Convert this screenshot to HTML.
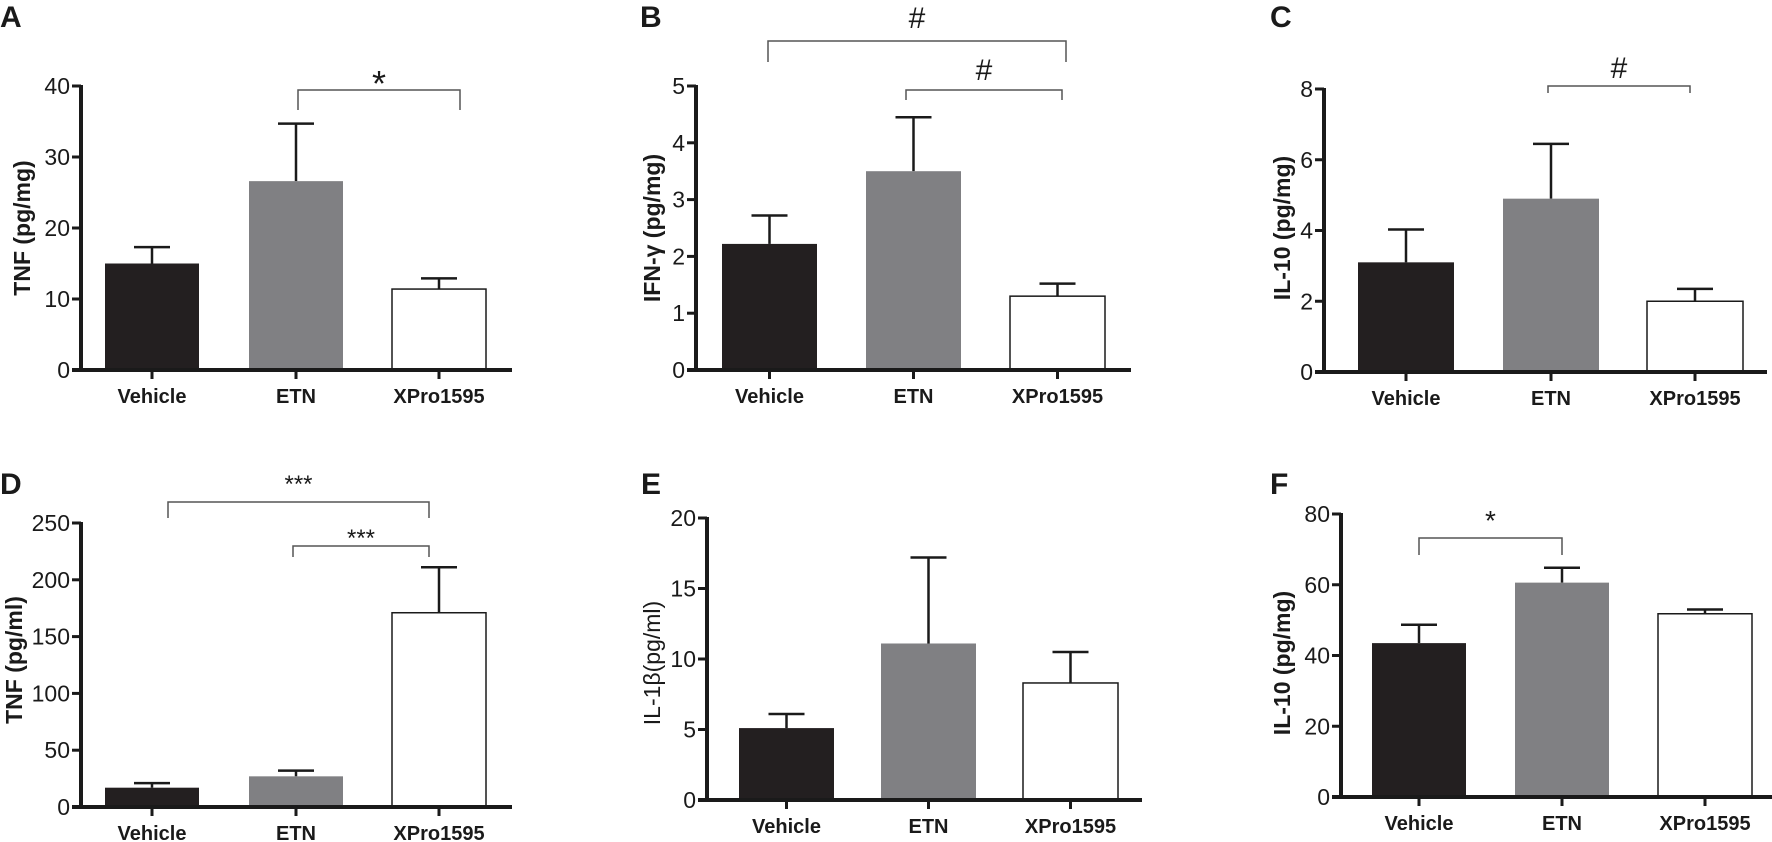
<!DOCTYPE html>
<html><head><meta charset="utf-8">
<style>
html,body{margin:0;padding:0;background:#fff;}
svg{display:block;}
text{font-family:"Liberation Sans",sans-serif;fill:#1a1a1a;}
.lbl{font-family:"Liberation Sans",sans-serif;font-weight:bold;}
</style></head>
<body>
<svg id="fig" width="1772" height="842" viewBox="0 0 1772 842"></svg>
<script>
const categories = ["Vehicle","ETN","XPro1595"];
const aMeans = [15.0, 26.6, 11.4];
const aErrs  = [17.3, 34.7, 12.9];
const aTicks = [0,10,20,30,40];
const bMeans = [2.22, 3.5, 1.3];
const bErrs  = [2.72, 4.45, 1.52];
const bTicks = [0,1,2,3,4,5];
const cMeans = [3.1, 4.9, 2.0];
const cErrs  = [4.03, 6.45, 2.35];
const cTicks = [0,2,4,6,8];
const dMeans = [17, 27, 171];
const dErrs  = [21, 32, 211];
const dTicks = [0,50,100,150,200,250];
const eMeans = [5.1, 11.1, 8.3];
const eErrs  = [6.1, 17.2, 10.5];
const eTicks = [0,5,10,15,20];
const fMeans = [43.5, 60.6, 51.8];
const fErrs  = [48.7, 64.8, 53.0];
const fTicks = [0,20,40,60,80];

const NS = "http://www.w3.org/2000/svg";
const svg = document.getElementById("fig");
const fills = ["#231f20","#808083","#ffffff"];

function mk(tag, attrs, parent){
  const e = document.createElementNS(NS, tag);
  for (const k in attrs) e.setAttribute(k, attrs[k]);
  (parent||svg).appendChild(e);
  return e;
}

function panel(p){
  const g = mk("g", {});
  
  
  const ymax = p.ticks[p.ticks.length-1];
  const y = v => p.y0 - (v/ymax)*(p.y0 - p.yTop);
  const L = mk("text", {x:p.letterX, y:p.letterY, "font-size":30, class:"lbl"}, g);
  L.textContent = p.id;
  
  
  p.means.forEach((m,i)=>{
    const x0 = p.barX[i], w = p.barW;
    const cx = x0 + w/2;
    const el = mk("line", {x1:cx, x2:cx, y1:y(m), y2:y(p.errs[i]), stroke:"#1a1a1a","stroke-width":2.5}, g);
    
    
    const cap = mk("line", {x1:cx-18, x2:cx+18, y1:y(p.errs[i]), y2:y(p.errs[i]), stroke:"#1a1a1a","stroke-width":2.5}, g);
    
    
    const r = mk("rect", {x:x0, y:y(m), width:w, height:p.y0-y(m), fill:fills[i], stroke:i==2?"#1a1a1a":"none","stroke-width":1.5}, g);
    
    
    const t = mk("line", {x1:cx, x2:cx, y1:p.y0, y2:p.y0+9, stroke:"#1a1a1a","stroke-width":3}, g);
    
    
    const tl = mk("text", {x:cx, y:p.y0+33, "font-size":20, "text-anchor":"middle", class:"lbl"}, g);
    tl.textContent = categories[i];
    
    
  });
  const ya = mk("line", {x1:p.ax, x2:p.ax, y1:y(ymax)-1, y2:p.y0+2, stroke:"#1a1a1a","stroke-width":4}, g);
  
  
  const xa = mk("line", {x1:p.ax-9, x2:p.axEnd, y1:p.y0, y2:p.y0, stroke:"#1a1a1a","stroke-width":4}, g);
  
  
  p.ticks.forEach(v=>{
    const tk = mk("line", {x1:p.ax-9, x2:p.ax, y1:y(v), y2:y(v), stroke:"#1a1a1a","stroke-width":3}, g);
    
    
    const tl = mk("text", {x:p.ax-11, y:y(v)+8, "font-size":23, "text-anchor":"end"}, g);
    tl.textContent = v;
    
    
  });
  const tt = mk("text", {x:0, y:0, "font-size":23, "text-anchor":"middle", class:p.titleBold?"lbl":"", transform:`translate(${p.titleX},${p.titleY}) rotate(-90)`}, g);
  tt.textContent = p.title;
  
  
  p.brackets.forEach(b=>{
    const br = mk("path", {d:`M${b.x1},${b.d1} V${b.y} H${b.x2} V${b.d2}`, fill:"none", stroke:"#555","stroke-width":1.5}, g);
    
    
    const s = mk("text", {x:(b.x1+b.x2)/2, y:b.ty, "font-size":b.fs, "text-anchor":"middle"}, g);
    s.textContent = b.sym;
    
    
  });
}

panel({id:"A", means:aMeans, errs:aErrs, ticks:aTicks, ax:81, axEnd:512, y0:370, yTop:86,
  barX:[105,249,392], barW:94, letterX:0, letterY:27, title:"TNF (pg/mg)", titleBold:true, titleX:30, titleY:228,
  brackets:[{x1:298,x2:460,y:90,d1:110,d2:110,sym:"*",ty:96,fs:36}]});
panel({id:"B", means:bMeans, errs:bErrs, ticks:bTicks, ax:696, axEnd:1131, y0:370, yTop:86,
  barX:[722,866,1010], barW:95, letterX:640, letterY:27, title:"IFN-\u03b3 (pg/mg)", titleBold:true, titleX:660, titleY:228,
  brackets:[{x1:768,x2:1066,y:41,d1:62,d2:62,sym:"#",ty:28,fs:30},
            {x1:906,x2:1062,y:90,d1:100,d2:100,sym:"#",ty:80,fs:30}]});
panel({id:"C", means:cMeans, errs:cErrs, ticks:cTicks, ax:1324, axEnd:1767, y0:372, yTop:89,
  barX:[1358,1503,1647], barW:96, letterX:1270, letterY:27, title:"IL-10 (pg/mg)", titleBold:true, titleX:1290, titleY:228,
  brackets:[{x1:1548,x2:1690,y:86,d1:93,d2:93,sym:"#",ty:78,fs:30}]});
panel({id:"D", means:dMeans, errs:dErrs, ticks:dTicks, ax:81, axEnd:512, y0:807, yTop:523,
  barX:[105,249,392], barW:94, letterX:0, letterY:494, title:"TNF (pg/ml)", titleBold:true, titleX:22, titleY:660,
  brackets:[{x1:168,x2:429,y:502,d1:518,d2:518,sym:"***",ty:492,fs:24},
            {x1:293,x2:429,y:546,d1:557,d2:557,sym:"***",ty:546,fs:24}]});
panel({id:"E", means:eMeans, errs:eErrs, ticks:eTicks, ax:707, axEnd:1142, y0:800, yTop:518,
  barX:[739,881,1023], barW:95, letterX:641, letterY:494, title:"IL-1\u03b2(pg/ml)", titleBold:false, titleX:660, titleY:663,
  brackets:[]});
panel({id:"F", means:fMeans, errs:fErrs, ticks:fTicks, ax:1341, axEnd:1772, y0:797, yTop:514,
  barX:[1372,1515,1658], barW:94, letterX:1270, letterY:494, title:"IL-10 (pg/mg)", titleBold:true, titleX:1290, titleY:663,
  brackets:[{x1:1419,x2:1562,y:538,d1:555,d2:555,sym:"*",ty:530,fs:28}]});
</script>
</body></html>
